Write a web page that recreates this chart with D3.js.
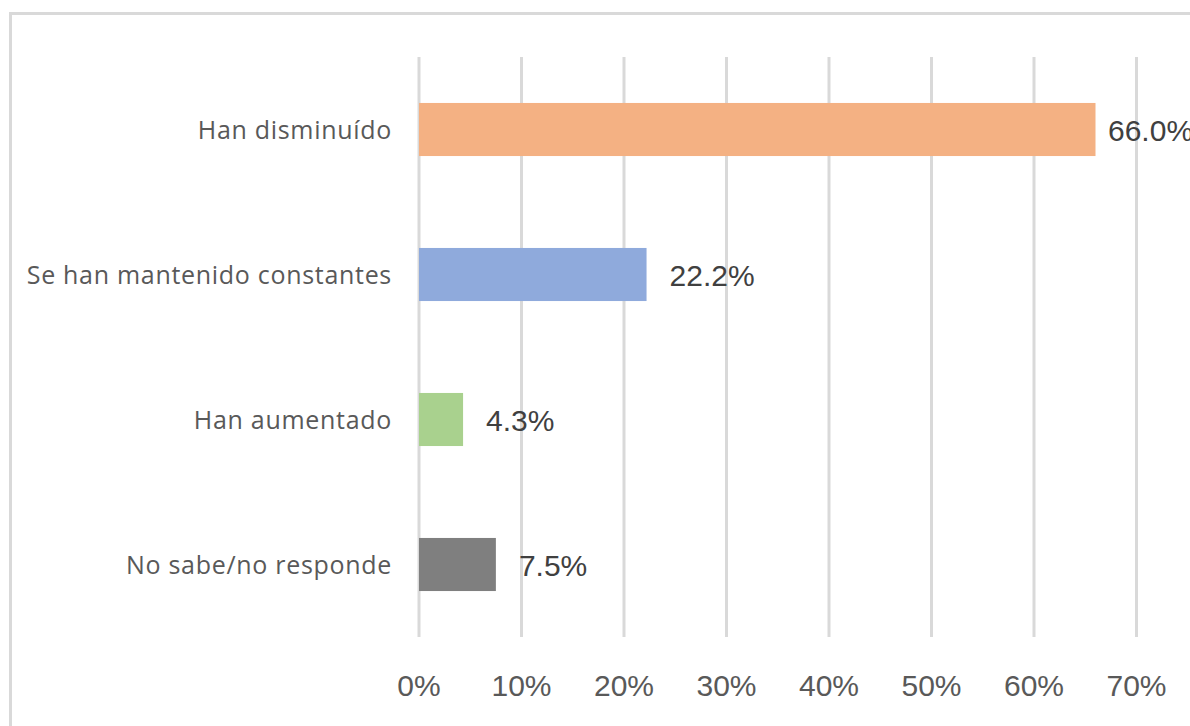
<!DOCTYPE html>
<html>
<head>
<meta charset="utf-8">
<script src="https://cdn.jsdelivr.net/npm/d3@7"></script>
<style>
  html, body { margin: 0; padding: 0; background: #fff; overflow: hidden; }
</style>
</head>
<body>
<div id="chart"></div>
<script>
const width = 1190
const height = 726

// data
const categories = ["Han disminuído", "Se han mantenido constantes", "Han aumentado", "No sabe/no responde"]
const values = [0.660, 0.222, 0.043, 0.075]
const colors = ["#F4B183", "#8FAADC", "#A9D18E", "#7F7F7F"]
const ticks = [0, 0.1, 0.2, 0.3, 0.4, 0.5, 0.6, 0.7]

const plotLeft = 419, plotRight = 1136.5, plotTop = 57, plotBottom = 637

const svg = d3.select("#chart")
  .append("svg")
    .attr("width", width)
    .attr("height", height)

// chart area border (runs off the right and bottom edges)
svg.append("rect")
  .attr("x", 10.5).attr("y", 13.5)
  .attr("width", width + 20).attr("height", height + 20)
  .attr("fill", "none")
  .attr("stroke", "#d9d9d9")
  .attr("stroke-width", 3)

const x = d3.scaleLinear().domain([0, 0.7]).range([plotLeft, plotRight])
const y = d3.scaleBand().domain(categories).range([plotTop, plotBottom]).paddingInner(0.634).paddingOuter(0.317)

// vertical gridlines
svg.append("g")
  .selectAll("line")
  .data(ticks)
  .enter()
  .append("line")
    .attr("x1", d => x(d)).attr("x2", d => x(d))
    .attr("y1", plotTop).attr("y2", plotBottom)
    .attr("stroke", "#d9d9d9")
    .attr("stroke-width", 3)

// tick labels
svg.append("g")
  .selectAll("text")
  .data(ticks)
  .enter()
  .append("text")
    .attr("x", d => x(d))
    .attr("y", 696)
    .attr("text-anchor", "middle")
    .style("font-family", "'Liberation Sans', Arial, sans-serif")
    .style("font-size", "30px")
    .attr("fill", "#595959")
    .text(d => d3.format(".0%")(d))

const rows = categories.map((c, i) => ({ cat: c, value: values[i], color: colors[i] }))

// bars
svg.append("g")
  .selectAll("rect")
  .data(rows)
  .enter()
  .append("rect")
    .attr("x", x(0))
    .attr("y", d => y(d.cat))
    .attr("width", d => x(d.value) - x(0))
    .attr("height", y.bandwidth())
    .attr("fill", d => d.color)

// category labels
svg.append("g")
  .selectAll("text")
  .data(rows)
  .enter()
  .append("text")
    .attr("x", x(0) - 27)
    .attr("y", d => y(d.cat) + y.bandwidth() / 2 + 9)
    .attr("text-anchor", "end")
    .style("font-family", "'Open Sans', sans-serif")
    .style("font-size", "25px")
    .style("letter-spacing", "0.7px")
    .attr("fill", "#595959")
    .text(d => d.cat)

// value labels
svg.append("g")
  .selectAll("text")
  .data(rows)
  .enter()
  .append("text")
    .attr("x", d => Math.min(x(d.value) + 23, width - 82))
    .attr("y", d => y(d.cat) + y.bandwidth() / 2 + 11)
    .style("font-family", "'Liberation Sans', Arial, sans-serif")
    .style("font-size", "30px")
    .attr("fill", "#404040")
    .text(d => d3.format(".1%")(d.value))
</script>
</body>
</html>
